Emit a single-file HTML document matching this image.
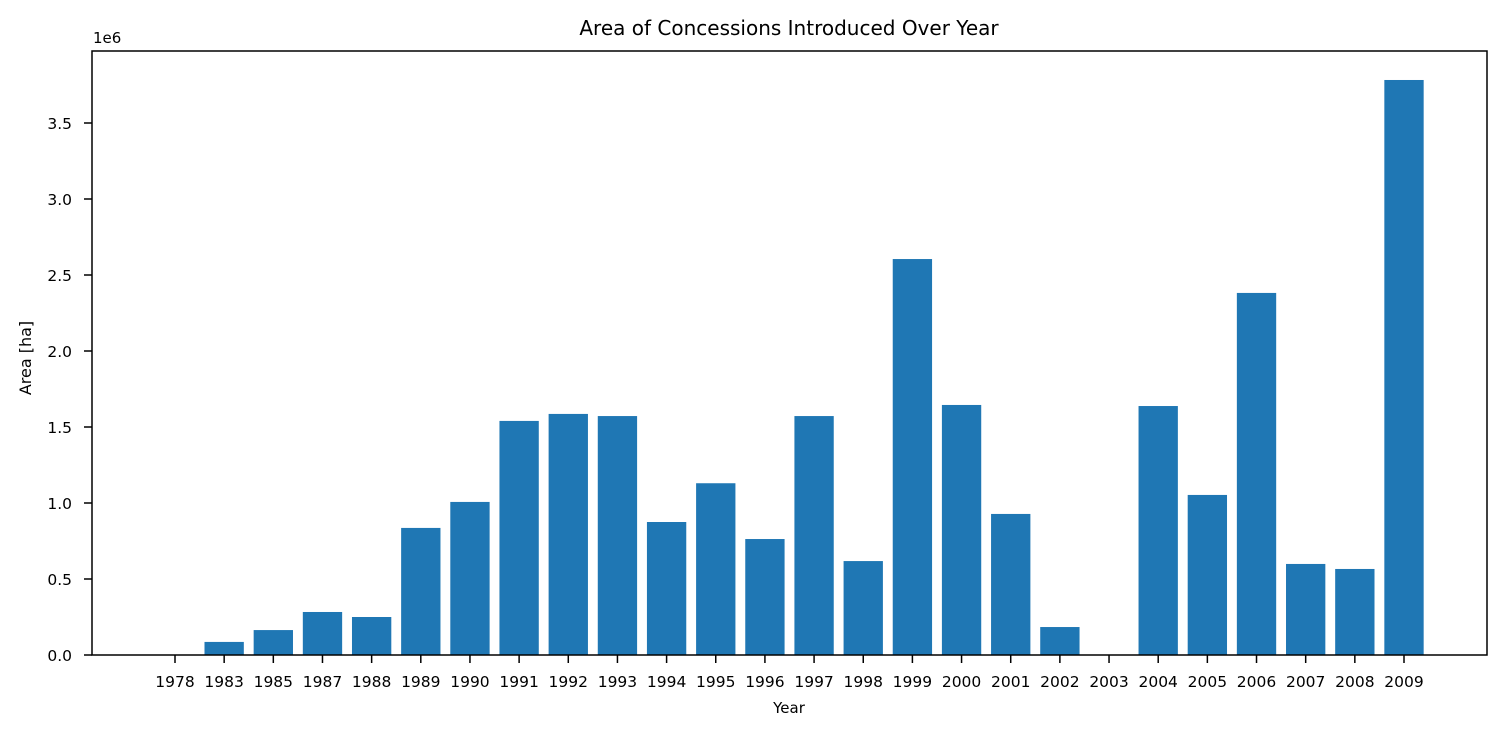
<!DOCTYPE html>
<html><head><meta charset="utf-8"><style>
body{margin:0;background:#fff;}
svg text{font-family:"DejaVu Sans","Liberation Sans",sans-serif;fill:#000;}
</style></head><body>
<svg id="chart" width="1507" height="736">
<rect width="1507" height="736" fill="#fff"/>
<text x="789" y="35" font-size="20" text-anchor="middle">Area of Concessions Introduced Over Year</text>
<text x="93" y="43" font-size="15">1e6</text>
<text x="789" y="713" font-size="15" text-anchor="middle">Year</text>
<text x="31" y="358" font-size="16" text-anchor="middle" transform="rotate(-90 31 358)">Area [ha]</text>
<g id="bars"></g><g id="xt"></g><g id="yt"></g>
<rect x="92" y="51" width="1395" height="604" fill="none" stroke="#000" stroke-width="1.5"/>
</svg>
<script>
const categories=["1978","1983","1985","1987","1988","1989","1990","1991","1992","1993","1994","1995","1996","1997","1998","1999","2000","2001","2002","2003","2004","2005","2006","2007","2008","2009"];
const values=[0,0.086,0.164,0.283,0.25,0.836,1.007,1.54,1.586,1.572,0.875,1.13,0.763,1.572,0.618,2.605,1.645,0.928,0.184,0,1.638,1.053,2.382,0.599,0.566,3.783];
const yTicks=[0,0.5,1.0,1.5,2.0,2.5,3.0,3.5];
const NS="http://www.w3.org/2000/svg";
const step=49.16;
const x=i=>175+i*step;
const y=v=>655-v*152;
const bars=document.getElementById('bars'),xt=document.getElementById('xt'),yt=document.getElementById('yt');
function mk(t,a,p){const e=document.createElementNS(NS,t);for(const k in a)e.setAttribute(k,a[k]);p.appendChild(e);return e;}
categories.forEach((c,i)=>{
 const bw=step*0.8;
 const r=mk('rect',{x:x(i)-bw/2,y:y(values[i]),width:bw,height:655-y(values[i]),fill:'#1f77b4'},bars);
 
 
 mk('line',{x1:x(i),x2:x(i),y1:655,y2:663,stroke:'#000','stroke-width':1.5},xt);
 const t=mk('text',{x:x(i),y:687,'font-size':15.5,'text-anchor':'middle'},xt);t.textContent=c;
 
 
});
yTicks.forEach(v=>{
 mk('line',{x1:84,x2:92,y1:y(v),y2:y(v),stroke:'#000','stroke-width':1.5},yt);
 const t=mk('text',{x:72,y:y(v)+6,'font-size':15.5,'text-anchor':'end'},yt);t.textContent=v.toFixed(1);
 
 
});
</script>
</body></html>
